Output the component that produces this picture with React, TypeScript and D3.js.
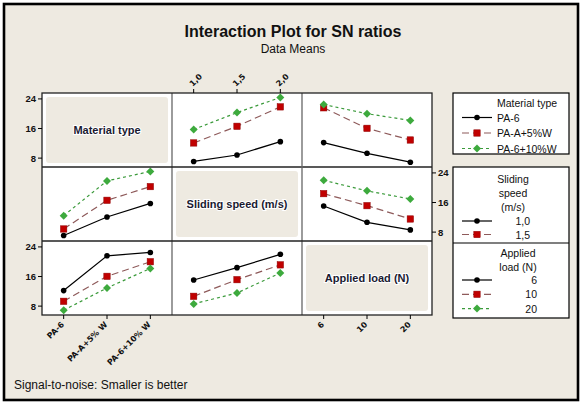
import * as d3 from 'd3';

const W = 581;
const H = 403;

// factor names and levels
const factorNames = ['Material type', 'Sliding speed (m/s)', 'Applied load (N)'];
const materialLevels = ['PA-6', 'PA-A+5% W', 'PA-6+10% W'];
const speedLevels = ['1,0', '1,5', '2,0'];
const loadLevels = ['6', '10', '20'];
const materialLegend = ['PA-6', 'PA-A+5%W', 'PA-6+10%W'];

// SN ratio means
const materialBySpeed = [
  [7.1, 8.85, 12.45],
  [12.1, 16.6, 21.85],
  [15.75, 20.3, 24.4],
]; // [material][speed]
const materialByLoad = [
  [12.2, 9.3, 6.9],
  [21.6, 16.05, 12.9],
  [22.5, 20.0, 18.2],
]; // [material][load]
const speedByLoad = [
  [15.05, 10.65, 8.6],
  [18.4, 15.15, 11.55],
  [22.0, 19.15, 16.95],
]; // [speed][load]

const yTicks = [8, 16, 24];
const yDomain = [5.6, 25.6];

const levels = [materialLevels, speedLevels, loadLevels];
const tables: Record<string, number[][]> = {
  '0-1': materialBySpeed,
  '0-2': materialByLoad,
  '1-2': speedByLoad,
};

const seriesStyle = [
  { stroke: '#000000', dash: null as string | null, fill: '#000000', shape: 'circle' },
  { stroke: '#8E5A5A', dash: '7,4', fill: '#C00000', shape: 'square' },
  { stroke: '#3A9A3A', dash: '3,3', fill: '#3DAA3D', shape: 'diamond' },
];

const BG = '#EEEAE1';
const gx = 42;
const gy = 93;
const cw = 130;
const ch = 74;
const font = '"Liberation Sans", Arial, sans-serif';
const tickFont = '"DejaVu Sans", Verdana, sans-serif';

// mean value for line level a of factor i at x level b of factor j
const meanOf = (i: number, j: number, a: number, b: number) =>
  i < j ? tables[`${i}-${j}`][a][b] : tables[`${j}-${i}`][b][a];

const Marker = ({ x, y, s }: { x: number; y: number; s: number }) => {
  const st = seriesStyle[s];
  if (st.shape === 'circle') return <circle cx={x} cy={y} r={2.8} fill={st.fill} />;
  if (st.shape === 'square')
    return <rect x={x - 3.2} y={y - 3.2} width={6.4} height={6.4} fill={st.fill} stroke="#900000" strokeWidth={0.5} />;
  return <path d={`M${x},${y - 4}L${x + 4},${y}L${x},${y + 4}L${x - 4},${y}Z`} fill={st.fill} />;
};

const Panel = ({ i, j }: { i: number; j: number }) => {
  const x0 = gx + j * cw;
  const y0 = gy + i * ch;
  const x = d3.scalePoint<string>().domain(levels[j]).range([x0, x0 + cw]).padding(0.5);
  const y = d3.scaleLinear().domain(yDomain).range([y0 + ch, y0]);
  const line = d3
    .line<number>()
    .x((_, k) => x(levels[j][k])!)
    .y((v) => y(v));
  return (
    <g>
      {levels[i].map((_, a) => {
        const vals = levels[j].map((__, b) => meanOf(i, j, a, b));
        const st = seriesStyle[a];
        return (
          <g key={a}>
            <path d={line(vals)!} fill="none" stroke={st.stroke} strokeWidth={1.2} strokeDasharray={st.dash ?? undefined} />
            {vals.map((v, k) => (
              <Marker key={k} x={x(levels[j][k])!} y={y(v)} s={a} />
            ))}
          </g>
        );
      })}
    </g>
  );
};

const DiagCell = ({ k }: { k: number }) => {
  const x0 = gx + k * cw;
  const y0 = gy + k * ch;
  return (
    <g>
      <rect x={x0 + 4} y={y0 + 4} width={cw - 8} height={ch - 8} rx={3} fill={BG} />
      <text
        x={x0 + cw / 2}
        y={y0 + ch / 2 + 4}
        textAnchor="middle"
        fontFamily={font}
        fontWeight="bold"
        fontSize={11}
        fill="#1a1a30"
        stroke="#ffffff"
        strokeWidth={2}
        paintOrder="stroke"
      >
        {factorNames[k]}
      </text>
    </g>
  );
};

const YAxis = ({ row, side }: { row: number; side: 'left' | 'right' }) => {
  const y0 = gy + row * ch;
  const y = d3.scaleLinear().domain(yDomain).range([y0 + ch, y0]);
  const ax = side === 'left' ? gx : gx + 3 * cw;
  const dir = side === 'left' ? -1 : 1;
  return (
    <g>
      {yTicks.map((t) => (
        <g key={t}>
          <line x1={ax} x2={ax + dir * 4} y1={y(t)} y2={y(t)} stroke="#000" />
          <text
            x={ax + dir * 6}
            y={y(t) + 3.5}
            textAnchor={side === 'left' ? 'end' : 'start'}
            fontFamily={font}
            fontSize={9.5}
            fontWeight="bold"
            fill="#111"
          >
            {t}
          </text>
        </g>
      ))}
    </g>
  );
};

const XAxis = ({ col, side }: { col: number; side: 'top' | 'bottom' }) => {
  const x0 = gx + col * cw;
  const x = d3.scalePoint<string>().domain(levels[col]).range([x0, x0 + cw]).padding(0.5);
  const ay = side === 'top' ? gy : gy + 3 * ch;
  return (
    <g>
      {levels[col].map((l) => {
        const px = x(l)!;
        if (side === 'top') {
          return (
            <g key={l}>
              <line x1={px} x2={px} y1={ay} y2={ay - 4} stroke="#000" />
              <text
                transform={`translate(${px - 1},${ay - 6}) rotate(-45)`}
                fontFamily={tickFont}
                fontSize={8}
                fontWeight="bold"
                fill="#111"
              >
                {l}
              </text>
            </g>
          );
        }
        return (
          <g key={l}>
            <line x1={px} x2={px} y1={ay} y2={ay + 4} stroke="#000" />
            <text
              transform={`translate(${px + 1},${ay + 10}) rotate(-45)`}
              textAnchor="end"
              fontFamily={tickFont}
              fontSize={8}
              fontWeight="bold"
              fill="#111"
            >
              {l}
            </text>
          </g>
        );
      })}
    </g>
  );
};

const LegendEntry = ({ y, s, label, anchor, tx }: { y: number; s: number; label: string; anchor: string; tx: number }) => {
  const st = seriesStyle[s];
  return (
    <g>
      <line x1={462} x2={492} y1={y} y2={y} stroke={st.stroke} strokeWidth={1.2} strokeDasharray={st.dash ?? undefined} />
      <Marker x={477} y={y} s={s} />
      <text x={tx} y={y + 4} textAnchor={anchor} fontFamily={font} fontSize={10.5} fill="#111">
        {label}
      </text>
    </g>
  );
};

const App = () => {
  const cells: JSX.Element[] = [];
  for (let i = 0; i < 3; i++) {
    for (let j = 0; j < 3; j++) {
      if (i === j) cells.push(<DiagCell key={`${i}${j}`} k={i} />);
      else cells.push(<Panel key={`${i}${j}`} i={i} j={j} />);
    }
  }
  return (
    <svg width={W} height={H} style={{ position: 'absolute', left: 0, top: 0 }}>
      <rect x={0} y={0} width={W} height={H} fill="#ffffff" />
      <rect x={4} y={4} width={574} height={396} fill={BG} stroke="#000" strokeWidth={2.6} />

      <text x={293} y={37} textAnchor="middle" fontFamily={font} fontWeight="bold" fontSize={16} fill="#111">
        Interaction Plot for SN ratios
      </text>
      <text x={293} y={53} textAnchor="middle" fontFamily={font} fontSize={12} fill="#111">
        Data Means
      </text>

      <rect x={gx} y={gy} width={cw * 3} height={ch * 3} fill="#ffffff" />
      {cells}
      {[1, 2].map((k) => (
        <g key={k}>
          <line x1={gx + k * cw} x2={gx + k * cw} y1={gy} y2={gy + 3 * ch} stroke="#666" strokeWidth={1.3} />
          <line x1={gx} x2={gx + 3 * cw} y1={gy + k * ch} y2={gy + k * ch} stroke="#222" strokeWidth={1.3} />
        </g>
      ))}
      <rect x={gx} y={gy} width={cw * 3} height={ch * 3} fill="none" stroke="#222" strokeWidth={1.3} />

      <YAxis row={0} side="left" />
      <YAxis row={1} side="right" />
      <YAxis row={2} side="left" />
      <XAxis col={0} side="bottom" />
      <XAxis col={1} side="top" />
      <XAxis col={2} side="bottom" />

      {/* legend: material type */}
      <rect x={453} y={93} width={116} height={61} fill="#ffffff" stroke="#000" strokeWidth={1.2} />
      <text x={497} y={107} fontFamily={font} fontSize={10.5} fill="#111">
        {factorNames[0]}
      </text>
      {materialLegend.map((l, k) => (
        <LegendEntry key={l} y={117.5 + k * 15.5} s={k} label={l} anchor="start" tx={497} />
      ))}

      {/* legend: speed and load */}
      <rect x={453} y={167} width={116} height={151} fill="#ffffff" stroke="#000" strokeWidth={1.2} />
      <line x1={453} x2={569} y1={243} y2={243} stroke="#000" strokeWidth={1.2} />
      {['Sliding', 'speed', '(m/s)'].map((t, k) => (
        <text key={t} x={513} y={183 + k * 14} textAnchor="middle" fontFamily={font} fontSize={10.5} fill="#111">
          {t}
        </text>
      ))}
      {speedLevels.slice(0, 2).map((l, k) => (
        <LegendEntry key={l} y={221 + k * 13.5} s={k} label={l} anchor="end" tx={530} />
      ))}
      {['Applied', 'load (N)'].map((t, k) => (
        <text key={t} x={518} y={257 + k * 13.5} textAnchor="middle" fontFamily={font} fontSize={10.5} fill="#111">
          {t}
        </text>
      ))}
      {loadLevels.map((l, k) => (
        <LegendEntry key={l} y={280 + k * 14.3} s={k} label={l} anchor="end" tx={537} />
      ))}

      <text x={14} y={389} fontFamily={font} fontSize={12} fill="#111">
        Signal-to-noise: Smaller is better
      </text>
    </svg>
  );
};

export default App;
